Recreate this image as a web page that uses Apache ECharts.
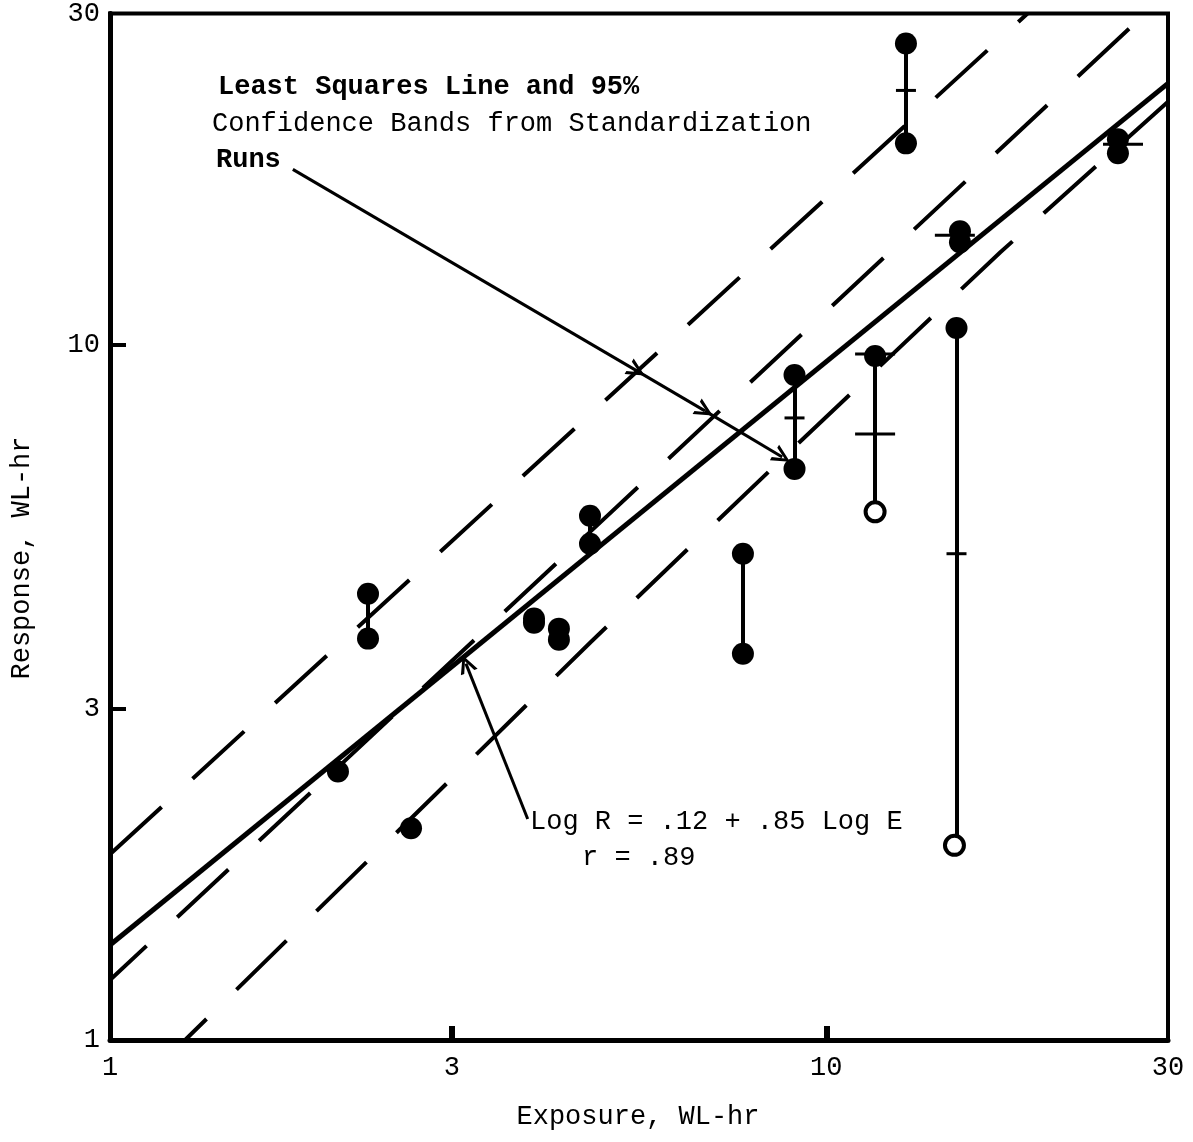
<!DOCTYPE html>
<html><head><meta charset="utf-8">
<script src="https://cdn.jsdelivr.net/npm/echarts@6/dist/echarts.min.js"></script>
<style>html,body{margin:0;padding:0;background:#fff}#c{width:1193px;height:1142px}</style>
</head><body><div id="c"></div>
<script>
// ---- data ----
const xTickLabels = [1, 3, 10, 30];
const yTickLabels = [1, 3, 10, 30];
const innerTicks = [3, 10];

// least squares line of this data set: Log R = .12 + .85 Log E
const lsLine = [[1, 1.37], [30, 23.8]];
// standardization runs: LS line and 95% bands (dashed)
const bandUpper = [[1, 1.85], [19.1, 30]];
const bandMiddle = [[1, 1.22], [27.9, 30]];
const bandLower = [[1.273, 1], [2.54, 2.01], [4.68, 3.73], [9.19, 7.26], [17.5, 13.6], [30, 22.4]];

// measured points (Exposure, Response)
const filledPts = [
  [2.081, 2.435], [2.632, 2.017],
  [2.292, 4.387], [2.292, 3.781],
  [3.908, 4.04], [3.908, 3.986],
  [4.234, 3.908], [4.234, 3.768],
  [4.679, 5.679], [4.679, 5.178],
  [7.650, 5.009], [7.650, 3.597],
  [9.03, 9.056], [9.03, 6.635],
  [11.70, 9.643],
  [12.92, 27.16], [12.92, 19.51],
  [15.2, 10.58],
  [15.37, 14.58], [15.37, 14.06],
  [25.54, 19.77], [25.54, 18.88]
];
const openPts = [[11.70, 5.755], [15.1, 1.906]];
// vertical ranges: [exposure, low response, high response]
const rangePairs = [
  [2.292, 3.781, 4.387],
  [4.679, 5.178, 5.679],
  [7.650, 3.597, 5.009],
  [9.03, 6.635, 9.056],
  [11.70, 5.755, 9.643],
  [12.92, 19.51, 27.16],
  [15.2, 1.906, 10.58]
];
const meanMarks = [[12.92, 23.25], [9.03, 7.855], [15.2, 5.009]];
const wideMeanMarks = [[11.70, 7.449], [11.70, 9.707], [15.12, 14.39], [25.96, 19.45]];

// annotation arrows (data coordinates)
const runsArrow = [[1.80, 17.9], [5.44, 9.18], [6.77, 8.04], [8.68, 6.90]];
const eqArrow = [[3.83, 2.08], [3.14, 3.48]];

// ---- chart ----
const FONT = '"Liberation Mono", "DejaVu Sans Mono", monospace';
const dash = [70, 42];
const vHead = 'path://M0,20 L10,0 L20,20 L16,20 L10,7 L4,20 Z';

function segs(pts) {
  const out = [];
  for (let i = 0; i < pts.length - 1; i++) out.push({ coords: [pts[i], pts[i + 1]] });
  return out;
}

const axisCommon = {
  type: 'log', logBase: 10, min: 1, max: 30,
  splitLine: { show: false },
  minorTick: { show: false },
  axisLine: { show: true, onZero: false, lineStyle: { color: '#000', width: 5 } }
};

const chart = echarts.init(document.getElementById('c'), null, { renderer: 'canvas' });
chart.setOption({
  animation: false,
  backgroundColor: '#fff',
  grid: { left: 110, top: 12, width: 1058, height: 1028, show: true, borderColor: '#000', borderWidth: 4, backgroundColor: 'transparent' },
  xAxis: Object.assign({}, axisCommon, {
    axisTick: { show: true, inside: true, length: 14, customValues: innerTicks, lineStyle: { color: '#000', width: 6 } },
    axisLabel: { customValues: xTickLabels, formatter: v => String(Math.round(v)), color: '#000', fontFamily: FONT, fontSize: 27, margin: 14 }
  }),
  yAxis: Object.assign({}, axisCommon, {
    axisTick: { show: true, inside: true, length: 16, customValues: innerTicks, lineStyle: { color: '#000', width: 4 } },
    axisLabel: { customValues: yTickLabels, formatter: v => String(Math.round(v)), color: '#000', fontFamily: FONT, fontSize: 27, margin: 10 }
  }),
  graphic: [
    { type: 'text', x: 638, y: 1117, style: { text: 'Exposure, WL-hr', font: '27px ' + FONT, fill: '#000', textAlign: 'center', textVerticalAlign: 'middle' } },
    { type: 'text', x: 22, y: 558, rotation: Math.PI / 2, style: { text: 'Response, WL-hr', font: '27px ' + FONT, fill: '#000', textAlign: 'center', textVerticalAlign: 'middle' } },
    { type: 'text', x: 218, y: 87, style: { text: 'Least Squares Line and 95%', font: 'bold 27px ' + FONT, fill: '#000', textVerticalAlign: 'middle' } },
    { type: 'text', x: 212, y: 124, style: { text: 'Confidence Bands from Standardization', font: '27px ' + FONT, fill: '#000', textVerticalAlign: 'middle' } },
    { type: 'text', x: 216, y: 160, style: { text: 'Runs', font: 'bold 27px ' + FONT, fill: '#000', textVerticalAlign: 'middle' } },
    { type: 'text', x: 530, y: 822, style: { text: 'Log R = .12 + .85 Log E', font: '27px ' + FONT, fill: '#000', textVerticalAlign: 'middle' } },
    { type: 'text', x: 582, y: 858, style: { text: 'r = .89', font: '27px ' + FONT, fill: '#000', textVerticalAlign: 'middle' } }
  ],
  series: [
    { type: 'line', data: lsLine, symbol: 'none', z: 2, silent: true,
      lineStyle: { color: '#000', width: 5 } },
    { type: 'line', data: bandUpper, symbol: 'none', z: 2, silent: true,
      lineStyle: { color: '#000', width: 4, type: dash } },
    { type: 'line', data: bandMiddle, symbol: 'none', z: 2, silent: true,
      lineStyle: { color: '#000', width: 4, type: dash, dashOffset: 20 } },
    { type: 'line', data: bandLower, symbol: 'none', z: 2, silent: true,
      lineStyle: { color: '#000', width: 4, type: dash, dashOffset: 40 } },
    { type: 'lines', coordinateSystem: 'cartesian2d', z: 3, silent: true,
      data: rangePairs.map(p => ({ coords: [[p[0], p[1]], [p[0], p[2]]] })),
      lineStyle: { color: '#000', width: 4, opacity: 1, curveness: 0 } },
    { type: 'scatter', data: meanMarks, symbol: 'rect', symbolSize: [20, 3], z: 4, silent: true,
      itemStyle: { color: '#000', opacity: 1 } },
    { type: 'scatter', data: wideMeanMarks, symbol: 'rect', symbolSize: [40, 3], z: 4, silent: true,
      itemStyle: { color: '#000', opacity: 1 } },
    { type: 'scatter', data: filledPts, symbol: 'circle', symbolSize: 22, z: 5, silent: true,
      itemStyle: { color: '#000', opacity: 1 } },
    { type: 'scatter', data: openPts, symbol: 'circle', symbolSize: 19, z: 5, silent: true,
      itemStyle: { color: '#fff', borderColor: '#000', borderWidth: 4, opacity: 1 } },
    { type: 'lines', coordinateSystem: 'cartesian2d', z: 6, silent: true,
      data: segs(runsArrow).concat(segs(eqArrow)),
      symbol: ['none', vHead], symbolSize: [1, 18],
      lineStyle: { color: '#000', width: 3, opacity: 1, curveness: 0 },
      itemStyle: { color: '#000' } }
  ]
});
</script>
</body></html>
